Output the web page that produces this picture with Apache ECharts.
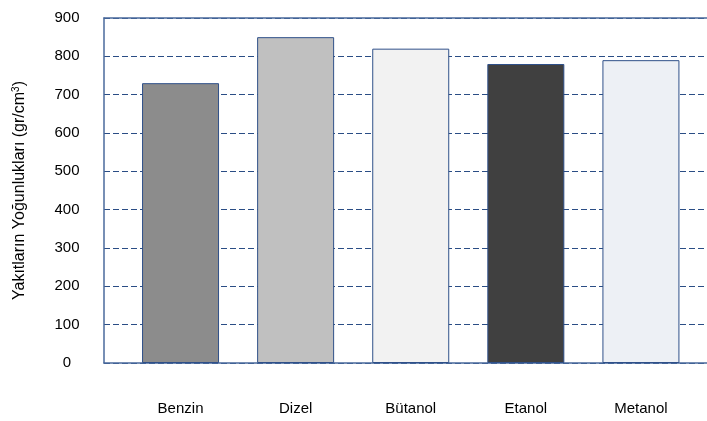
<!DOCTYPE html>
<html>
<head>
<meta charset="utf-8">
<script src="https://cdn.jsdelivr.net/npm/echarts@6/dist/echarts.min.js"></script>
<style>
  html, body { margin: 0; padding: 0; background: #fff; }
  #chart { width: 707px; height: 421px; }
</style>
</head>
<body>
<div id="chart"></div>
<script>
// yakıt yoğunlukları
const fuels = ['Benzin', 'Dizel', 'Bütanol', 'Etanol', 'Metanol']
const densities = [730, 850, 820, 780, 790]
const barColors = ['#8c8c8c', '#c0c0c0', '#f2f2f2', '#404040', '#edf0f5']
const yTicks = [0, 100, 200, 300, 400, 500, 600, 700, 800, 900]

const positions = fuels.map((f, i) => i)
const axisBlue = '#4a6a9c'
const font = 'Liberation Sans, Arial, sans-serif'

const chart = echarts.init(document.getElementById('chart'))

chart.setOption({
  animation: false,
  backgroundColor: '#fff',
  grid: { left: 104, right: 0, top: 18, bottom: 58, outerBoundsMode: 'none', containLabel: false },
  xAxis: [
    {
      type: 'value',
      min: -0.665,
      max: 4.574,
      position: 'bottom',
      axisLine: { show: true, onZero: false, lineStyle: { color: axisBlue, width: 1.5 } },
      axisTick: { show: false },
      splitLine: { show: false },
      axisLabel: {
        customValues: positions,
        formatter: (v) => fuels[Math.round(v)],
        color: '#000',
        fontFamily: font,
        fontSize: 15,
        margin: 38,
      },
    },
    {
      type: 'value',
      min: -0.665,
      max: 4.574,
      position: 'top',
      axisLine: { show: true, onZero: false, lineStyle: { color: axisBlue, width: 1.5 } },
      axisTick: { show: false },
      axisLabel: { show: false },
      splitLine: { show: false },
    },
  ],
  yAxis: {
    type: 'value',
    min: 0,
    max: yTicks[yTicks.length - 1],
    interval: 100,
    name: '{a|Yakıtların Yoğunlukları (gr/cm}{s|3}{a|)}',
    nameLocation: 'middle',
    nameRotate: 90,
    nameGap: 75,
    nameTextStyle: {
      fontSize: 16,
      fontFamily: font,
      rich: {
        a: { fontFamily: font, fontSize: 16, color: '#000' },
        s: { fontFamily: font, fontSize: 10, color: '#000', verticalAlign: 'top', padding: [0, 0, 8, 0] },
      },
    },
    axisLine: { show: true, onZero: false, lineStyle: { color: axisBlue, width: 1.5 } },
    axisTick: { show: false },
    axisLabel: {
      color: '#000',
      fontFamily: font,
      fontSize: 15,
      margin: 37,
      align: 'center',
    },
    splitLine: {
      show: true,
      lineStyle: { color: '#2a4d85', type: [6, 3], width: 1 },
    },
  },
  series: [
    {
      type: 'bar',
      xAxisIndex: 0,
      barWidth: 77,
      data: densities.map((d, i) => ({
        value: [i, d],
        itemStyle: { color: barColors[i], borderColor: '#2f5089', borderWidth: 1 },
      })),
    },
  ],
})
</script>
</body>
</html>
